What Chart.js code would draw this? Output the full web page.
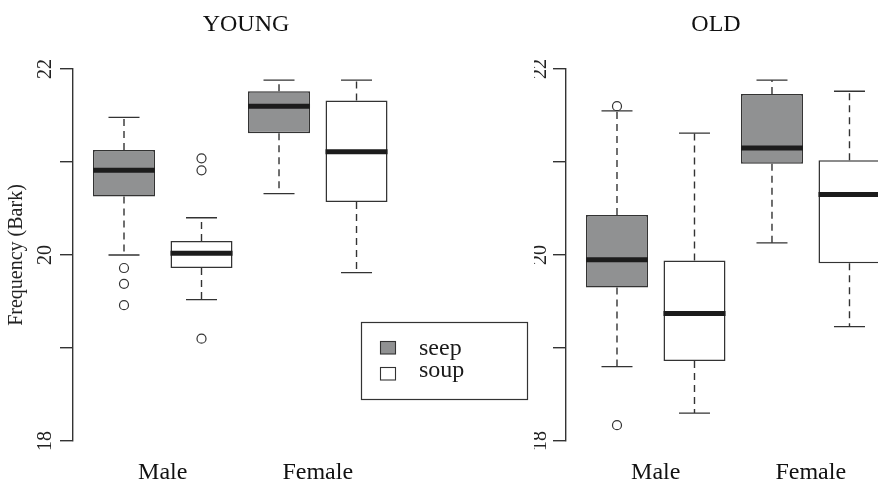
<!DOCTYPE html>
<html>
<head>
<meta charset="utf-8">
<script src="https://cdn.jsdelivr.net/npm/chart.js@4.4.1/dist/chart.umd.min.js"></script>
<style>
  html, body { margin: 0; padding: 0; background: #ffffff; overflow: hidden; }
  body { position: relative; width: 878px; height: 485px; }
  .panel { position: absolute; top: 0; }
  #panelOld { left: 438px; }
  #panelYoung { left: 0; }
</style>
</head>
<body>
<div class="panel" id="panelOld"><canvas id="old" width="460" height="485"></canvas></div>
<div class="panel" id="panelYoung"><canvas id="young" width="545" height="485"></canvas></div>
<script>
// Groups on the x axis and the two series drawn side by side in each group
const groups = ['Male', 'Female'];
const seriesNames = ['seep', 'soup'];
const seriesColors = ['#909192', '#ffffff'];

// Y axis ticks (odd values carry a tick mark only)
const yTickValues = [18, 19, 20, 21, 22];
const yTickLabels = ['18', '', '20', '', '22'];

// Box summaries per group: [lower whisker, Q1, median, Q3, upper whisker]
const youngSeep = [[20.00, 20.63, 20.91, 21.13, 21.48], [20.66, 21.31, 21.60, 21.76, 21.88]];
const youngSoup = [[19.52, 19.86, 20.02, 20.15, 20.40], [19.81, 20.57, 21.11, 21.66, 21.88]];
const youngSeepOutliers = [[19.86, 19.69, 19.46], []];
const youngSoupOutliers = [[21.04, 20.91, 19.10], []];

const oldSeep = [[18.80, 19.65, 19.95, 20.43, 21.55], [20.13, 20.98, 21.15, 21.73, 21.88]];
const oldSoup = [[18.30, 18.86, 19.37, 19.94, 21.31], [19.23, 19.91, 20.65, 21.02, 21.76]];
const oldSeepOutliers = [[21.60, 18.17], []];
const oldSoupOutliers = [[], []];

const SERIF = "'Liberation Serif', 'Times New Roman', serif";
const INK = '#333333';

// Whiskers, staples, medians and outlier circles on top of the floating bars
const boxWhiskerPlugin = {
  id: 'boxWhiskers',
  afterDatasetsDraw(chart) {
    const ctx = chart.ctx;
    const yScale = chart.scales.y;
    chart.data.datasets.forEach((ds, di) => {
      const meta = chart.getDatasetMeta(di);
      meta.data.forEach((bar, i) => {
        const item = ds.data[i];
        const [lo, q1, med, q3, hi] = item.stats;
        const cx = bar.x;
        const half = bar.width / 2;
        const py = v => yScale.getPixelForValue(v);
        ctx.save();
        ctx.strokeStyle = INK;
        ctx.lineWidth = 1.4;
        ctx.lineCap = 'butt';
        ctx.setLineDash([7, 5]);
        ctx.beginPath();
        ctx.moveTo(cx, py(q3)); ctx.lineTo(cx, py(hi));
        ctx.moveTo(cx, py(q1)); ctx.lineTo(cx, py(lo));
        ctx.stroke();
        ctx.setLineDash([]);
        ctx.beginPath();
        ctx.moveTo(cx - half / 2, py(hi)); ctx.lineTo(cx + half / 2, py(hi));
        ctx.moveTo(cx - half / 2, py(lo)); ctx.lineTo(cx + half / 2, py(lo));
        ctx.stroke();
        ctx.strokeStyle = '#1c1c1c';
        ctx.lineWidth = 5;
        ctx.beginPath();
        ctx.moveTo(cx - half, py(med)); ctx.lineTo(cx + half, py(med));
        ctx.stroke();
        ctx.strokeStyle = INK;
        ctx.lineWidth = 1.2;
        item.outliers.forEach(v => {
          ctx.beginPath();
          ctx.arc(cx, py(v), 4.5, 0, Math.PI * 2);
          ctx.stroke();
        });
        ctx.restore();
      });
    });
  }
};

// Boxed key listing the two series
const boxKeyPlugin = {
  id: 'boxKey',
  afterDraw(chart) {
    const ctx = chart.ctx;
    ctx.save();
    ctx.strokeStyle = INK;
    ctx.lineWidth = 1.2;
    ctx.strokeRect(361.5, 322.5, 166, 77);
    ctx.font = '24px ' + SERIF;
    ctx.fillStyle = '#1a1a1a';
    ctx.textAlign = 'left';
    ctx.textBaseline = 'alphabetic';
    const rows = [{sq: 341.5, base: 355}, {sq: 367.5, base: 377}];
    chart.data.datasets.forEach((ds, i) => {
      ctx.fillStyle = ds.backgroundColor;
      ctx.fillRect(380.5, rows[i].sq, 15, 12.5);
      ctx.lineWidth = 1.1;
      ctx.strokeRect(380.5, rows[i].sq, 15, 12.5);
      ctx.fillStyle = '#1a1a1a';
      ctx.fillText(ds.label, 419, rows[i].base);
    });
    ctx.restore();
  }
};

function boxDataset(index, stats, outliers) {
  return {
    label: seriesNames[index],
    data: stats.map((s, i) => ({ x: i + 1, y: [s[1], s[3]], stats: s, outliers: outliers[i] })),
    backgroundColor: seriesColors[index],
    borderColor: INK,
    borderWidth: 1.5,
    borderSkipped: false,
    categoryPercentage: 1.0,
    barPercentage: 0.8
  };
}

function makePanel(canvasId, titleText, seep, soup, seepOut, soupOut, cfg) {
  const plugins = [boxWhiskerPlugin];
  if (cfg.withKey) plugins.push(boxKeyPlugin);
  return new Chart(document.getElementById(canvasId), {
    type: 'bar',
    data: {
      datasets: [boxDataset(0, seep, seepOut), boxDataset(1, soup, soupOut)]
    },
    plugins: plugins,
    options: {
      responsive: false,
      animation: false,
      events: [],
      layout: { padding: { left: cfg.padLeft, right: cfg.padRight, top: 0, bottom: 0 } },
      plugins: {
        legend: { display: false },
        tooltip: { enabled: false },
        title: {
          display: true,
          text: titleText,
          color: '#111111',
          font: { family: SERIF, size: 24, weight: 'normal' },
          padding: { top: 10, bottom: 30.2 }
        }
      },
      scales: {
        x: {
          type: 'linear',
          min: cfg.xMin,
          max: cfg.xMax,
          offset: false,
          afterBuildTicks: s => { s.ticks = groups.map((g, i) => ({ value: i + 1 })); },
          afterFit: s => { s.height = 44; },
          grid: { display: false, drawTicks: false, offset: false },
          border: { display: false },
          ticks: {
            callback: v => groups[v - 1] ?? '',
            color: '#111111',
            font: { family: SERIF, size: 24 },
            padding: 17.5,
            autoSkip: false,
            minRotation: 0,
            maxRotation: 0
          }
        },
        y: {
          min: 18,
          max: 22,
          beginAtZero: false,
          afterBuildTicks: s => { s.ticks = yTickValues.map(v => ({ value: v })); },
          afterFit: s => { s.width = cfg.yWidth; },
          grid: { display: true, drawOnChartArea: false, drawTicks: true, tickLength: 13, color: INK, lineWidth: 1.4 },
          border: { display: true, color: INK, width: 1.4 },
          ticks: {
            callback: v => yTickLabels[yTickValues.indexOf(v)] ?? '',
            color: '#222222',
            font: { family: SERIF, size: 20 },
            minRotation: 90,
            maxRotation: 90,
            crossAlign: 'center',
            padding: cfg.yTickPad,
            autoSkip: false
          },
          title: {
            display: cfg.withYTitle,
            text: 'Frequency (Bark)',
            color: '#222222',
            font: { family: SERIF, size: 20 },
            padding: { top: 5, bottom: 0 }
          }
        }
      }
    }
  });
}

makePanel('young', 'YOUNG', youngSeep, youngSoup, youngSeepOutliers, youngSoupOutliers, {
  padLeft: 0, padRight: 53, yWidth: 73, yTickPad: 4, xMin: 0.421, xMax: 3.124, withKey: true, withYTitle: true
});
makePanel('old', 'OLD', oldSeep, oldSoup, oldSeepOutliers, oldSoupOutliers, {
  padLeft: 96, padRight: 0, yWidth: 32, yTickPad: 2, xMin: 0.421, xMax: 2.563, withKey: false, withYTitle: false
});
</script>
</body>
</html>
